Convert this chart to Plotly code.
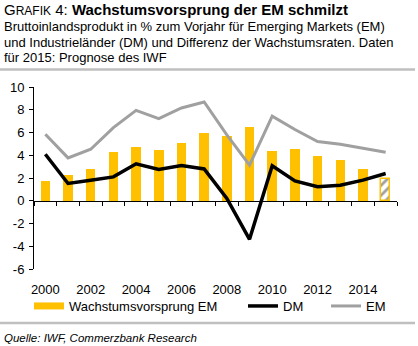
import plotly.graph_objects as go

# Figure size and plot-area margins (pixels)
W, H = 418, 346
ML, MR, MT, MB = 34, 21, 87, 77

# Data: GDP growth in % y/y, 2015 = IMF forecast
years = list(range(2000, 2016))
spread_em = [1.73, 2.25, 2.78, 4.30, 4.70, 4.50, 5.08, 5.92,
             5.65, 6.50, 4.35, 4.52, 3.95, 3.62, 2.80, 1.95]
dm = [4.09, 1.52, 1.80, 2.10, 3.25, 2.75, 3.10, 2.80,
      0.20, -3.39, 3.07, 1.75, 1.23, 1.37, 1.81, 2.40]
em = [5.85, 3.77, 4.53, 6.43, 7.95, 7.22, 8.16, 8.68,
      5.80, 3.13, 7.43, 6.26, 5.20, 4.97, 4.62, 4.27]
forecast_years = [2015]
year_ticks = list(range(2000, 2016, 2))
y_ticks = list(range(-6, 11, 2))

title_lead = "G<span style='font-size:12px'>RAFIK</span> 4: "
title_main = "Wachstumsvorsprung der EM schmilzt"
subtitle_lines = [
    "Bruttoinlandsprodukt in % zum Vorjahr für Emerging Markets (EM)",
    "und Industrieländer (DM) und Differenz der Wachstumsraten. Daten",
    "für 2015: Prognose des IWF",
]
source = "Quelle: IWF, Commerzbank Research"

YELLOW = "#FFC000"
GREY = "#A0A0A0"
FONT = "Liberation Sans, Arial, sans-serif"

PW, PH = W - ML - MR, H - MT - MB


def px(x):
    return (x - ML) / PW


def py(y):
    return (H - MB - y) / PH


is_fc = [y in forecast_years for y in years]

fig = go.Figure()

fig.add_trace(go.Bar(
    x=years, y=spread_em, name="Wachstumsvorsprung EM",
    width=0.42, showlegend=False,
    marker=dict(
        color=["white" if f else YELLOW for f in is_fc],
        line=dict(color=YELLOW, width=[1.5 if f else 0 for f in is_fc]),
        pattern=dict(shape=["/" if f else "" for f in is_fc],
                     fgcolor=YELLOW, bgcolor="white", size=7, solidity=0.4),
    ),
))
fig.add_trace(go.Scatter(
    x=years, y=dm, name="DM", mode="lines",
    line=dict(color="black", width=3.5), legend="legend2",
))
fig.add_trace(go.Scatter(
    x=years, y=em, name="EM", mode="lines",
    line=dict(color=GREY, width=3), legend="legend3",
))
# legend entry for the bars, drawn as a wide swatch
fig.add_trace(go.Scatter(
    x=[None], y=[None], name="Wachstumsvorsprung EM", mode="lines",
    line=dict(color=YELLOW, width=7), legend="legend",
))

xr = [years[0] - 0.5, years[-1] + 0.5]

leg = dict(orientation="h", xref="container", yref="container",
           yanchor="middle", y=1 - 306 / H, xanchor="left",
           bgcolor="rgba(0,0,0,0)", font=dict(size=13, color="black", family=FONT),
           itemwidth=30, tracegroupgap=0)

fig.update_layout(
    width=W, height=H,
    margin=dict(l=ML, r=MR, t=MT, b=MB, pad=0, autoexpand=False),
    paper_bgcolor="white", plot_bgcolor="white",
    font=dict(family=FONT, size=13, color="black"),
    bargap=0,
    legend=dict(leg, x=29 / W),
    legend2=dict(leg, x=243 / W),
    legend3=dict(leg, x=326 / W),
    xaxis=dict(
        range=xr, tickvals=year_ticks, ticks="outside", ticklen=8,
        tickcolor="rgba(0,0,0,0)", showline=False, showgrid=False,
        zeroline=False, tickfont=dict(size=13),
    ),
    # zero-crossing axis with ticks at year boundaries
    xaxis2=dict(
        overlaying="x", anchor="free", side="bottom",
        position=(0 - y_ticks[0]) / (y_ticks[-1] - y_ticks[0]),
        range=xr, tickvals=[y - 0.5 for y in years] + [years[-1] + 0.5],
        ticks="outside", ticklen=4, tickwidth=1, tickcolor="black",
        showticklabels=False, showline=True, linecolor="black", linewidth=1,
        showgrid=False, zeroline=False,
    ),
    yaxis=dict(
        range=[y_ticks[0], y_ticks[-1]], tickvals=y_ticks,
        ticktext=[str(v) for v in y_ticks],
        ticks="outside", ticklen=4, tickcolor="black",
        showline=True, linecolor="black", linewidth=1,
        showgrid=False, zeroline=False, tickfont=dict(size=13),
        ticklabelstandoff=2,
    ),
)

# empty trace so the boundary-tick axis is drawn
fig.add_trace(go.Scatter(x=[None], y=[None], xaxis="x2", showlegend=False))

ann = []
ann.append(dict(text=title_lead + "<b>" + title_main + "</b>",
                x=px(2), y=py(10), xref="paper", yref="paper",
                xanchor="left", yanchor="middle", showarrow=False,
                font=dict(size=15)))
for i, line in enumerate(subtitle_lines):
    ann.append(dict(text=line, x=px(2), y=py(26 + 16 * i),
                    xref="paper", yref="paper", xanchor="left",
                    yanchor="middle", showarrow=False, font=dict(size=13)))
ann.append(dict(text="<i>" + source + "</i>", x=px(2), y=py(338),
                xref="paper", yref="paper", xanchor="left", yanchor="middle",
                showarrow=False, font=dict(size=11.5)))
fig.update_layout(annotations=ann)

for yline in (69.5, 323):
    fig.add_shape(type="line", xref="paper", yref="paper",
                  x0=px(0), x1=px(415), y0=py(yline), y1=py(yline),
                  line=dict(color="#BFBFBF", width=2.5))

fig.write_html("out.html")
